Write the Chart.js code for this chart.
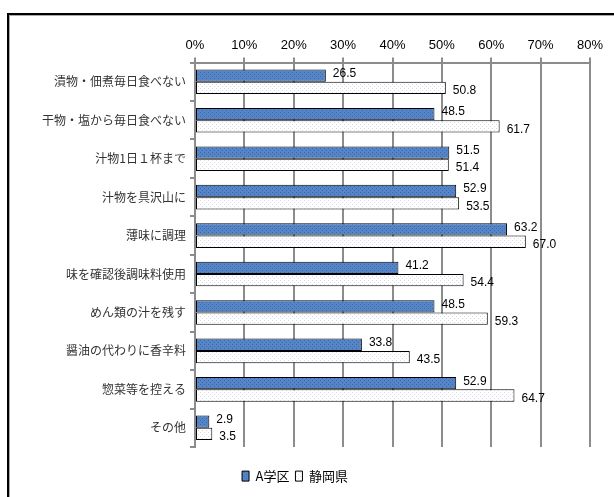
<!DOCTYPE html>
<html>
<head>
<meta charset="utf-8">
<script src="https://cdn.jsdelivr.net/npm/chart.js@4"></script>
<style>
  html, body { margin: 0; padding: 0; background: #fff; overflow: hidden; }
  .frame {
    position: absolute; left: 7px; top: 13px; width: 605px; height: 500px;
    border-left: 2px solid #000; border-top: 2px solid #000;
    box-shadow: inset 1px 1px 0 #aaa;
  }
  .chart { position: absolute; left: 0; top: 0; width: 614px; height: 497px; }
</style>
</head>
<body>
<div class="frame"></div>
<div class="chart"><canvas id="salt-chart" width="614" height="497"></canvas></div>
<script>
const categories = [
  '漬物・佃煮毎日食べない',
  '干物・塩から毎日食べない',
  '汁物1日１杯まで',
  '汁物を具沢山に',
  '薄味に調理',
  '味を確認後調味料使用',
  'めん類の汁を残す',
  '醤油の代わりに香辛料',
  '惣菜等を控える',
  'その他',
];
const areaA = [26.5, 48.5, 51.5, 52.9, 63.2, 41.2, 48.5, 33.8, 52.9, 2.9];
const shizuoka = [50.8, 61.7, 51.4, 53.5, 67.0, 54.4, 59.3, 43.5, 64.7, 3.5];
const seriesNames = ['A学区', '静岡県'];

const makePattern = (bg, dot) => {
  const c = document.createElement('canvas');
  c.width = 4;
  c.height = 4;
  const g = c.getContext('2d');
  g.fillStyle = bg;
  g.fillRect(0, 0, 4, 4);
  g.fillStyle = dot;
  g.fillRect(0, 0, 1, 1);
  g.fillRect(2, 2, 1, 1);
  return g.createPattern(c, 'repeat');
};
const ctx = document.getElementById('salt-chart').getContext('2d');
const blueFill = makePattern('#5585c6', '#3c68a8');
const whiteFill = makePattern('#ffffff', '#d6d9e6');

const gridGray = '#8c8c8c';
const narrow = '"Liberation Sans Narrow", "Liberation Sans", Arial, sans-serif';

// value labels at the end of each bar
const valueLabels = {
  id: 'valueLabels',
  afterDatasetsDraw(chart) {
    const c = chart.ctx;
    c.save();
    c.font = '12px ' + narrow;
    c.fillStyle = '#000';
    c.textBaseline = 'middle';
    c.textAlign = 'left';
    chart.data.datasets.forEach((ds, di) => {
      const meta = chart.getDatasetMeta(di);
      meta.data.forEach((bar, i) => {
        const dy = di === 0 ? -2 : 3;
        c.fillText(ds.data[i].toFixed(1), bar.x + 7, bar.y + dy);
      });
    });
    c.restore();
  },
};

new Chart(ctx, {
  type: 'bar',
  data: {
    labels: categories,
    datasets: [
      {
        label: seriesNames[0],
        data: areaA,
        backgroundColor: blueFill,
        borderColor: '#000',
        borderWidth: 1,
        borderSkipped: false,
        categoryPercentage: 0.64,
        barPercentage: 1.0,
      },
      {
        label: seriesNames[1],
        data: shizuoka,
        backgroundColor: whiteFill,
        borderColor: '#000',
        borderWidth: 1,
        borderSkipped: false,
        categoryPercentage: 0.64,
        barPercentage: 1.0,
      },
    ],
  },
  options: {
    indexAxis: 'y',
    responsive: false,
    animation: false,
    layout: { padding: { left: 0, right: 24, top: 34, bottom: 4.4 } },
    scales: {
      x: {
        position: 'top',
        min: 0,
        max: 80,
        ticks: {
          stepSize: 10,
          padding: 4,
          color: '#000',
          font: { family: narrow, size: 13 },
          callback: (v) => v + '%',
        },
        grid: { color: gridGray, lineWidth: 2, tickLength: 5, drawTicks: true },
        border: { display: true, color: gridGray, width: 2 },
      },
      y: {
        afterFit: (scale) => { scale.width = 195; },
        ticks: {
          padding: 4,
          color: '#333',
          font: { family: '"Noto Sans CJK JP", sans-serif', size: 12 },
        },
        grid: { drawOnChartArea: false, drawTicks: true, tickLength: 5, color: gridGray, lineWidth: 2, offset: true },
        border: { display: true, color: gridGray, width: 2 },
      },
    },
    plugins: {
      legend: {
        position: 'bottom',
        title: { display: true, text: '', padding: { top: 0, bottom: 1 }, font: { size: 13 } },
        labels: {
          boxWidth: 7,
          boxHeight: 10,
          padding: 6,
          color: '#000',
          font: { family: '"Noto Sans CJK JP", sans-serif', size: 13 },
        },
      },
      tooltip: { enabled: false },
    },
  },
  plugins: [valueLabels],
});
</script>
</body>
</html>
